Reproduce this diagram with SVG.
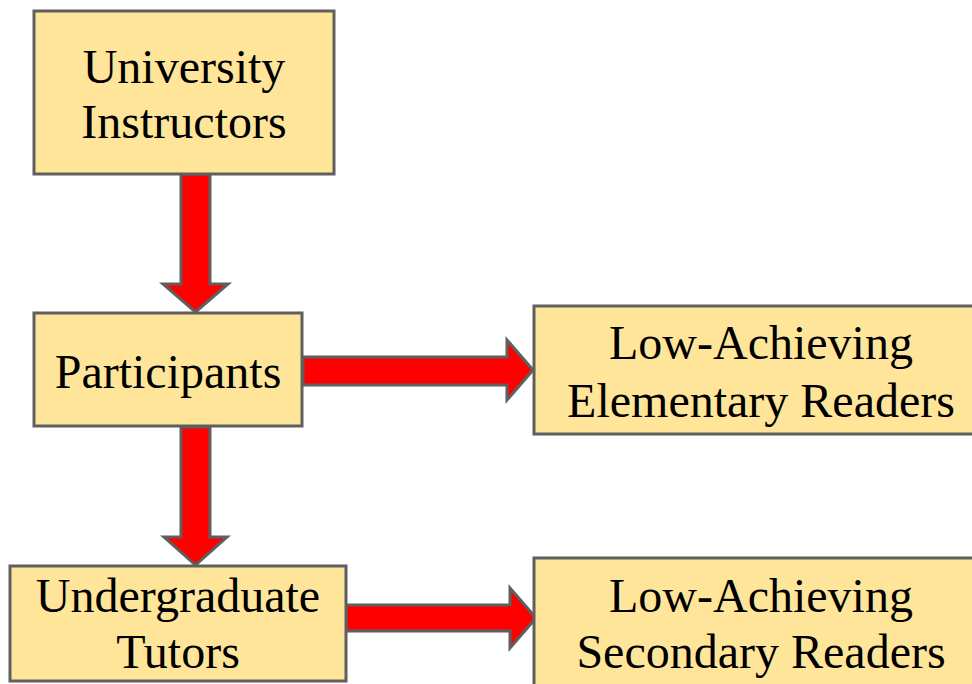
<svg xmlns="http://www.w3.org/2000/svg" width="972" height="684" viewBox="0 0 972 684">
<style>
.box{fill:#FFE599;stroke:#5f5f5f;stroke-width:3}
.arr{fill:#FF0000;stroke:#5f5f5f;stroke-width:3;stroke-linejoin:miter}
text{font-family:"Liberation Serif","Times New Roman",serif;font-size:48px;fill:#000;text-anchor:middle}
</style>
<rect width="972" height="684" fill="#fff"/>
<g id="connectors">
<path class="arr" d="M181,174 L210,174 L210,284 L228,284 L195.5,312 L163,284 L181,284 Z"/>
<path class="arr" d="M303,357 L507,357 L507,340 L533,370 L507,400 L507,385 L303,385 Z"/>
<path class="arr" d="M181,427 L210,427 L210,537 L227,537 L195.5,565 L164,537 L181,537 Z"/>
<path class="arr" d="M346,605 L510,605 L510,588 L536,618 L510,648 L510,631 L346,631 Z"/>
</g>
<g id="n1">
<rect class="box" x="34" y="11" width="300" height="163"/>
<text x="184" y="83">University</text>
<text x="184" y="138">Instructors</text>
</g>
<g id="n2">
<rect class="box" x="34" y="313" width="268" height="113"/>
<text x="168" y="388">Participants</text>
</g>
<g id="n3">
<rect class="box" x="534" y="306" width="460" height="128"/>
<text x="761" y="359">Low-Achieving</text>
<text x="761" y="417">Elementary Readers</text>
</g>
<g id="n4">
<rect class="box" x="10" y="566" width="336" height="115"/>
<text x="178" y="612">Undergraduate</text>
<text x="178" y="668">Tutors</text>
</g>
<g id="n5">
<rect class="box" x="534" y="558" width="460" height="140"/>
<text x="761" y="612">Low-Achieving</text>
<text x="761" y="668">Secondary Readers</text>
</g>
</svg>
